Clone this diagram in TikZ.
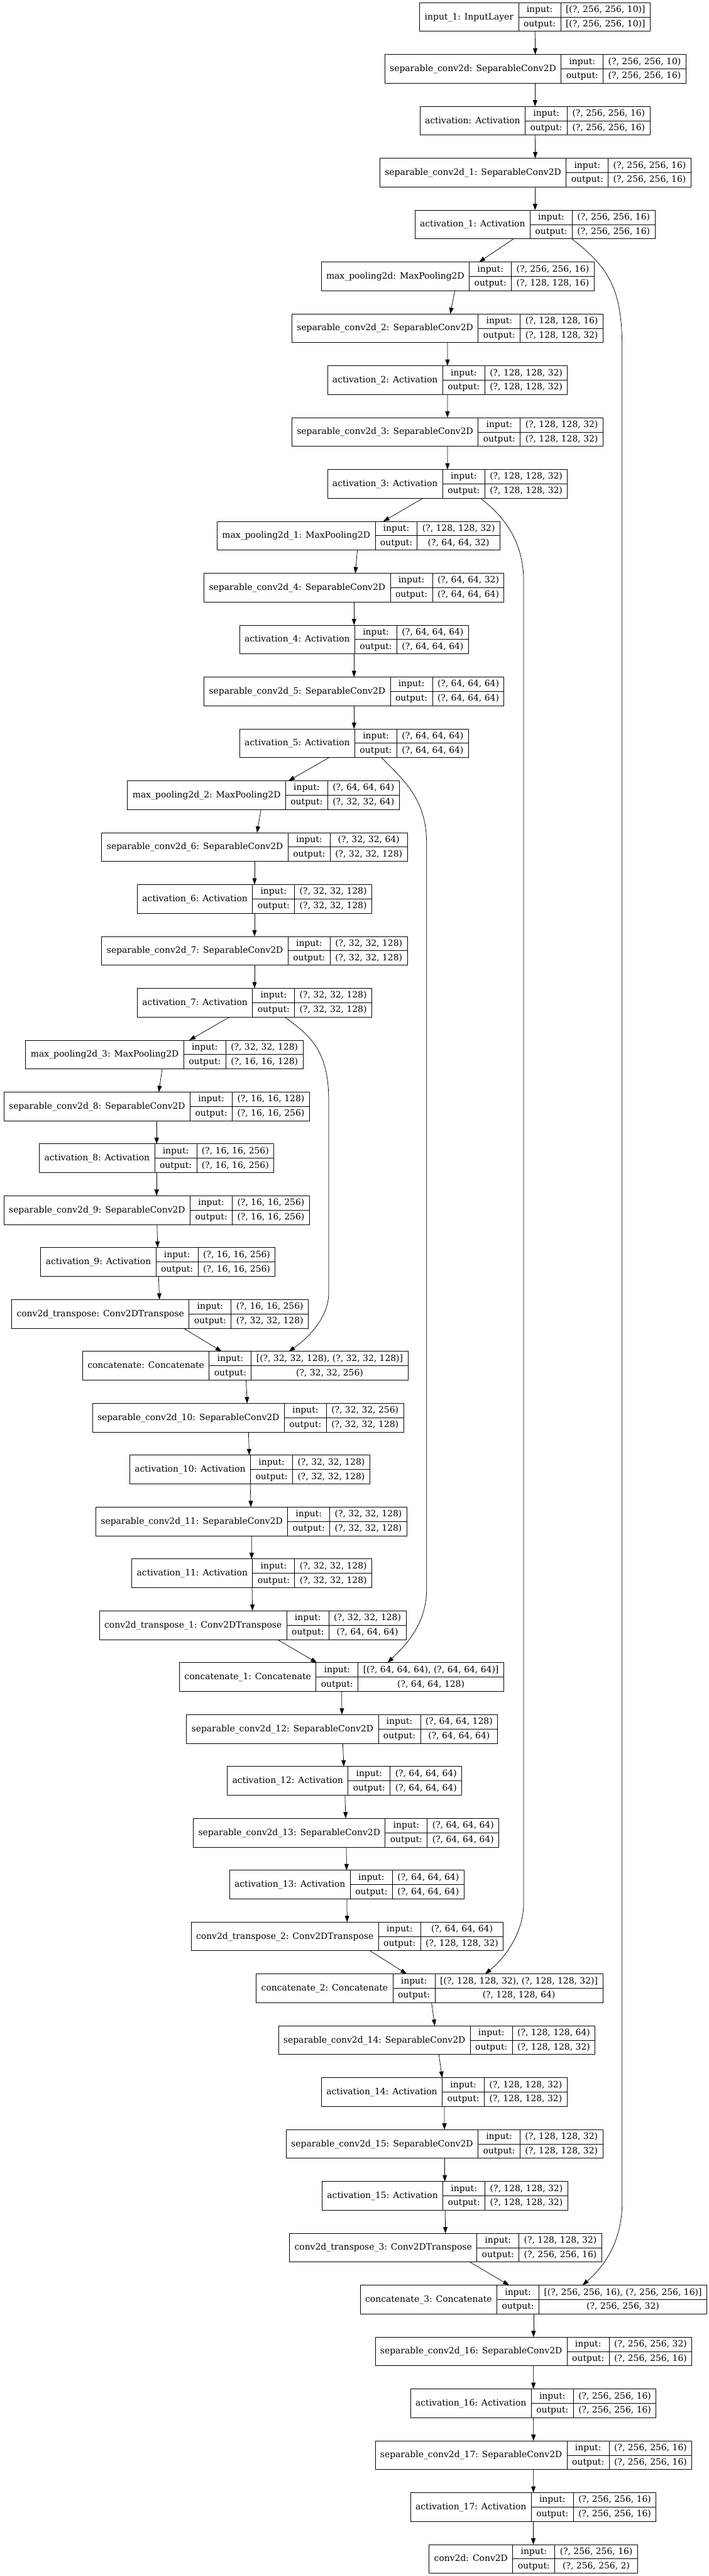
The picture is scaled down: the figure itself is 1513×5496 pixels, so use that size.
\documentclass[tikz,border=0pt]{standalone}
\usepackage{fontspec}
\setmainfont{DejaVu Serif}
\usetikzlibrary{arrows.meta,calc}
\newcommand\kfont{\fontsize{14}{17}\selectfont}
\font\kprim="DejaVu Serif" at 14pt
\newlength\cwA \newlength\cwB \newlength\cwC \newlength\cwT \newlength\cwX
\newcommand\kmeasure[2]{\setbox0=\hbox{\kprim #2}#1=\wd0\relax}
\tikzset{
  rec/.style={draw=black, line width=0.9pt, fill=white, inner sep=0pt, outer sep=0pt, minimum height=46pt, rectangle},
  cell/.style={draw=black, line width=0.9pt},
  txt/.style={inner sep=0pt, anchor=center, text height=11pt, text depth=3pt, font=\kfont},
  edge/.style={draw=black, line width=0.75pt, -{Triangle[length=10pt,width=7pt]}},
}
\newcommand\kerasnode[6]{%
  \kmeasure\cwA{#4}\addtolength\cwA{16pt}%
  \kmeasure\cwB{output:}\addtolength\cwB{16pt}%
  \kmeasure\cwC{#5}\kmeasure\cwX{#6}%
  \ifdim\cwX>\cwC \cwC=\cwX\fi
  \addtolength\cwC{16pt}%
  \cwT=\cwA \advance\cwT by \cwB \advance\cwT by \cwC
  \node[rec, minimum width=\cwT] (#1) at (#2,{36.3+110.68*#3}) {};
  \draw[cell] ([xshift=\cwA]#1.north west) -- ([xshift=\cwA]#1.south west);
  \draw[cell] ([xshift=\cwA+\cwB]#1.north west) -- ([xshift=\cwA+\cwB]#1.south west);
  \draw[cell] ([xshift=\cwA]#1.west) -- (#1.east);
  \node[txt] (#1-t) at ([xshift=\cwA/2]#1.west) {#4};
  \node[txt] (#1-li) at ([xshift=\cwA+\cwB/2, yshift=11.5pt]#1.west) {input:};
  \node[txt] (#1-lo) at ([xshift=\cwA+\cwB/2, yshift=-11.5pt]#1.west) {output:};
  \node[txt] (#1-vi) at ([xshift=\cwA+\cwB+\cwC/2, yshift=11.5pt]#1.west) {#5};
  \node[txt] (#1-vo) at ([xshift=\cwA+\cwB+\cwC/2, yshift=-11.5pt]#1.west) {#6};
}
\begin{document}
\begin{tikzpicture}[x=0.75pt, y=-0.75pt]
\fill[white] (0,0) rectangle (1513,5496);
\path[use as bounding box] (0,0) rectangle (1513,5496);

\kerasnode{in1}{1142}{0}{input\_1: InputLayer}{[(?, 256, 256, 10)]}{[(?, 256, 256, 10)]}
\kerasnode{sc0}{1142.9}{1}{separable\_conv2d: SeparableConv2D}{(?, 256, 256, 10)}{(?, 256, 256, 16)}
\kerasnode{a0}{1142}{2}{activation: Activation}{(?, 256, 256, 16)}{(?, 256, 256, 16)}
\kerasnode{sc1}{1143}{3}{separable\_conv2d\_1: SeparableConv2D}{(?, 256, 256, 16)}{(?, 256, 256, 16)}
\kerasnode{a1}{1142}{4}{activation\_1: Activation}{(?, 256, 256, 16)}{(?, 256, 256, 16)}
\kerasnode{mp0}{977}{5}{max\_pooling2d: MaxPooling2D}{(?, 256, 256, 16)}{(?, 128, 128, 16)}
\kerasnode{sc2}{955.2}{6}{separable\_conv2d\_2: SeparableConv2D}{(?, 128, 128, 16)}{(?, 128, 128, 32)}
\kerasnode{a2}{955.3}{7}{activation\_2: Activation}{(?, 128, 128, 32)}{(?, 128, 128, 32)}
\kerasnode{sc3}{955.2}{8}{separable\_conv2d\_3: SeparableConv2D}{(?, 128, 128, 32)}{(?, 128, 128, 32)}
\kerasnode{a3}{955.3}{9}{activation\_3: Activation}{(?, 128, 128, 32)}{(?, 128, 128, 32)}
\kerasnode{mp1}{765.5}{10}{max\_pooling2d\_1: MaxPooling2D}{(?, 128, 128, 32)}{(?, 64, 64, 32)}
\kerasnode{sc4}{755.8}{11}{separable\_conv2d\_4: SeparableConv2D}{(?, 64, 64, 32)}{(?, 64, 64, 64)}
\kerasnode{a4}{755.8}{12}{activation\_4: Activation}{(?, 64, 64, 64)}{(?, 64, 64, 64)}
\kerasnode{sc5}{755.8}{13}{separable\_conv2d\_5: SeparableConv2D}{(?, 64, 64, 64)}{(?, 64, 64, 64)}
\kerasnode{a5}{755.8}{14}{activation\_5: Activation}{(?, 64, 64, 64)}{(?, 64, 64, 64)}
\kerasnode{mp2}{562.3}{15}{max\_pooling2d\_2: MaxPooling2D}{(?, 64, 64, 64)}{(?, 32, 32, 64)}
\kerasnode{sc6}{543.4}{16}{separable\_conv2d\_6: SeparableConv2D}{(?, 32, 32, 64)}{(?, 32, 32, 128)}
\kerasnode{a6}{543.4}{17}{activation\_6: Activation}{(?, 32, 32, 128)}{(?, 32, 32, 128)}
\kerasnode{sc7}{543.4}{18}{separable\_conv2d\_7: SeparableConv2D}{(?, 32, 32, 128)}{(?, 32, 32, 128)}
\kerasnode{a7}{543.4}{19}{activation\_7: Activation}{(?, 32, 32, 128)}{(?, 32, 32, 128)}
\kerasnode{mp3}{350.8}{20}{max\_pooling2d\_3: MaxPooling2D}{(?, 32, 32, 128)}{(?, 16, 16, 128)}
\kerasnode{sc8}{334.4}{21}{separable\_conv2d\_8: SeparableConv2D}{(?, 16, 16, 128)}{(?, 16, 16, 256)}
\kerasnode{a8}{334.4}{22}{activation\_8: Activation}{(?, 16, 16, 256)}{(?, 16, 16, 256)}
\kerasnode{sc9}{334.4}{23}{separable\_conv2d\_9: SeparableConv2D}{(?, 16, 16, 256)}{(?, 16, 16, 256)}
\kerasnode{a9}{337.3}{24}{activation\_9: Activation}{(?, 16, 16, 256)}{(?, 16, 16, 256)}
\kerasnode{ct0}{341.6}{25}{conv2d\_transpose: Conv2DTranspose}{(?, 16, 16, 256)}{(?, 32, 32, 128)}
\kerasnode{cc0}{523.6}{26}{concatenate: Concatenate}{[(?, 32, 32, 128), (?, 32, 32, 128)]}{(?, 32, 32, 256)}
\kerasnode{sc10}{529.4}{27}{separable\_conv2d\_10: SeparableConv2D}{(?, 32, 32, 256)}{(?, 32, 32, 128)}
\kerasnode{a10}{533.2}{28}{activation\_10: Activation}{(?, 32, 32, 128)}{(?, 32, 32, 128)}
\kerasnode{sc11}{536.6}{29}{separable\_conv2d\_11: SeparableConv2D}{(?, 32, 32, 128)}{(?, 32, 32, 128)}
\kerasnode{a11}{537.6}{30}{activation\_11: Activation}{(?, 32, 32, 128)}{(?, 32, 32, 128)}
\kerasnode{ct1}{539.5}{31}{conv2d\_transpose\_1: Conv2DTranspose}{(?, 32, 32, 128)}{(?, 64, 64, 64)}
\kerasnode{cc1}{729.2}{32}{concatenate\_1: Concatenate}{[(?, 64, 64, 64), (?, 64, 64, 64)]}{(?, 64, 64, 128)}
\kerasnode{sc12}{730.2}{33}{separable\_conv2d\_12: SeparableConv2D}{(?, 64, 64, 128)}{(?, 64, 64, 64)}
\kerasnode{a12}{735.5}{34}{activation\_12: Activation}{(?, 64, 64, 64)}{(?, 64, 64, 64)}
\kerasnode{sc13}{738.9}{35}{separable\_conv2d\_13: SeparableConv2D}{(?, 64, 64, 64)}{(?, 64, 64, 64)}
\kerasnode{a13}{740.3}{36}{activation\_13: Activation}{(?, 64, 64, 64)}{(?, 64, 64, 64)}
\kerasnode{ct2}{741.3}{37}{conv2d\_transpose\_2: Conv2DTranspose}{(?, 64, 64, 64)}{(?, 128, 128, 32)}
\kerasnode{cc2}{917}{38}{concatenate\_2: Concatenate}{[(?, 128, 128, 32), (?, 128, 128, 32)]}{(?, 128, 128, 64)}
\kerasnode{sc14}{932.4}{39}{separable\_conv2d\_14: SeparableConv2D}{(?, 128, 128, 64)}{(?, 128, 128, 32)}
\kerasnode{a14}{948.4}{40}{activation\_14: Activation}{(?, 128, 128, 32)}{(?, 128, 128, 32)}
\kerasnode{sc15}{948.9}{41}{separable\_conv2d\_15: SeparableConv2D}{(?, 128, 128, 32)}{(?, 128, 128, 32)}
\kerasnode{a15}{949.8}{42}{activation\_15: Activation}{(?, 128, 128, 32)}{(?, 128, 128, 32)}
\kerasnode{ct3}{951.3}{43}{conv2d\_transpose\_3: Conv2DTranspose}{(?, 128, 128, 32)}{(?, 256, 256, 16)}
\kerasnode{cc3}{1139}{44}{concatenate\_3: Concatenate}{[(?, 256, 256, 16), (?, 256, 256, 16)]}{(?, 256, 256, 32)}
\kerasnode{sc16}{1139}{45}{separable\_conv2d\_16: SeparableConv2D}{(?, 256, 256, 32)}{(?, 256, 256, 16)}
\kerasnode{a16}{1138.5}{46}{activation\_16: Activation}{(?, 256, 256, 16)}{(?, 256, 256, 16)}
\kerasnode{sc17}{1139}{47}{separable\_conv2d\_17: SeparableConv2D}{(?, 256, 256, 16)}{(?, 256, 256, 16)}
\kerasnode{a17}{1138.5}{48}{activation\_17: Activation}{(?, 256, 256, 16)}{(?, 256, 256, 16)}
\kerasnode{cv}{1138.6}{49}{conv2d: Conv2D}{(?, 256, 256, 16)}{(?, 256, 256, 2)}

\foreach \a/\b in {in1/sc0, sc0/a0, a0/sc1, sc1/a1, a1/mp0, mp0/sc2, sc2/a2, a2/sc3, sc3/a3, a3/mp1,
  mp1/sc4, sc4/a4, a4/sc5, sc5/a5, a5/mp2, mp2/sc6, sc6/a6, a6/sc7, sc7/a7, a7/mp3,
  mp3/sc8, sc8/a8, a8/sc9, sc9/a9, a9/ct0, ct0/cc0, cc0/sc10, sc10/a10, a10/sc11, sc11/a11,
  a11/ct1, ct1/cc1, cc1/sc12, sc12/a12, a12/sc13, sc13/a13, a13/ct2, ct2/cc2, cc2/sc14, sc14/a14,
  a14/sc15, sc15/a15, a15/ct3, ct3/cc3, cc3/sc16, sc16/a16, a16/sc17, sc17/a17, a17/cv}
  \draw[edge] (\a) -- (\b);

% skip connections
\draw[edge] ($(a1.south)+(79,0)$) .. controls (1295,568) and (1328,610) .. (1328,740)
  -- (1328,4700) .. controls (1328,4790) and (1283,4841) .. ($(cc3.north)+(104.6,0)$);
\draw[edge] ($(a3.south)+(70.5,0)$) .. controls (1071,1098) and (1117.8,1150) .. (1117.8,1240)
  -- (1117.8,4060) .. controls (1117.8,4135) and (1064.5,4188.7) .. ($(cc2.north)+(118.5,0)$);
\draw[edge] ($(a5.south)+(59,0)$) .. controls (856.8,1661.5) and (910.7,1700) .. (910.7,1800)
  -- (910.7,3390) .. controls (910.7,3470) and (860,3515) .. ($(cc1.north)+(98.2,0)$);
\draw[edge] ($(a7.south)+(64.4,0)$) .. controls (655,2205) and (700,2235) .. (701.6,2340)
  -- (701.6,2760) .. controls (701.6,2810) and (658,2855) .. ($(cc0.north)+(92.9,0)$);
\end{tikzpicture}
\end{document}
